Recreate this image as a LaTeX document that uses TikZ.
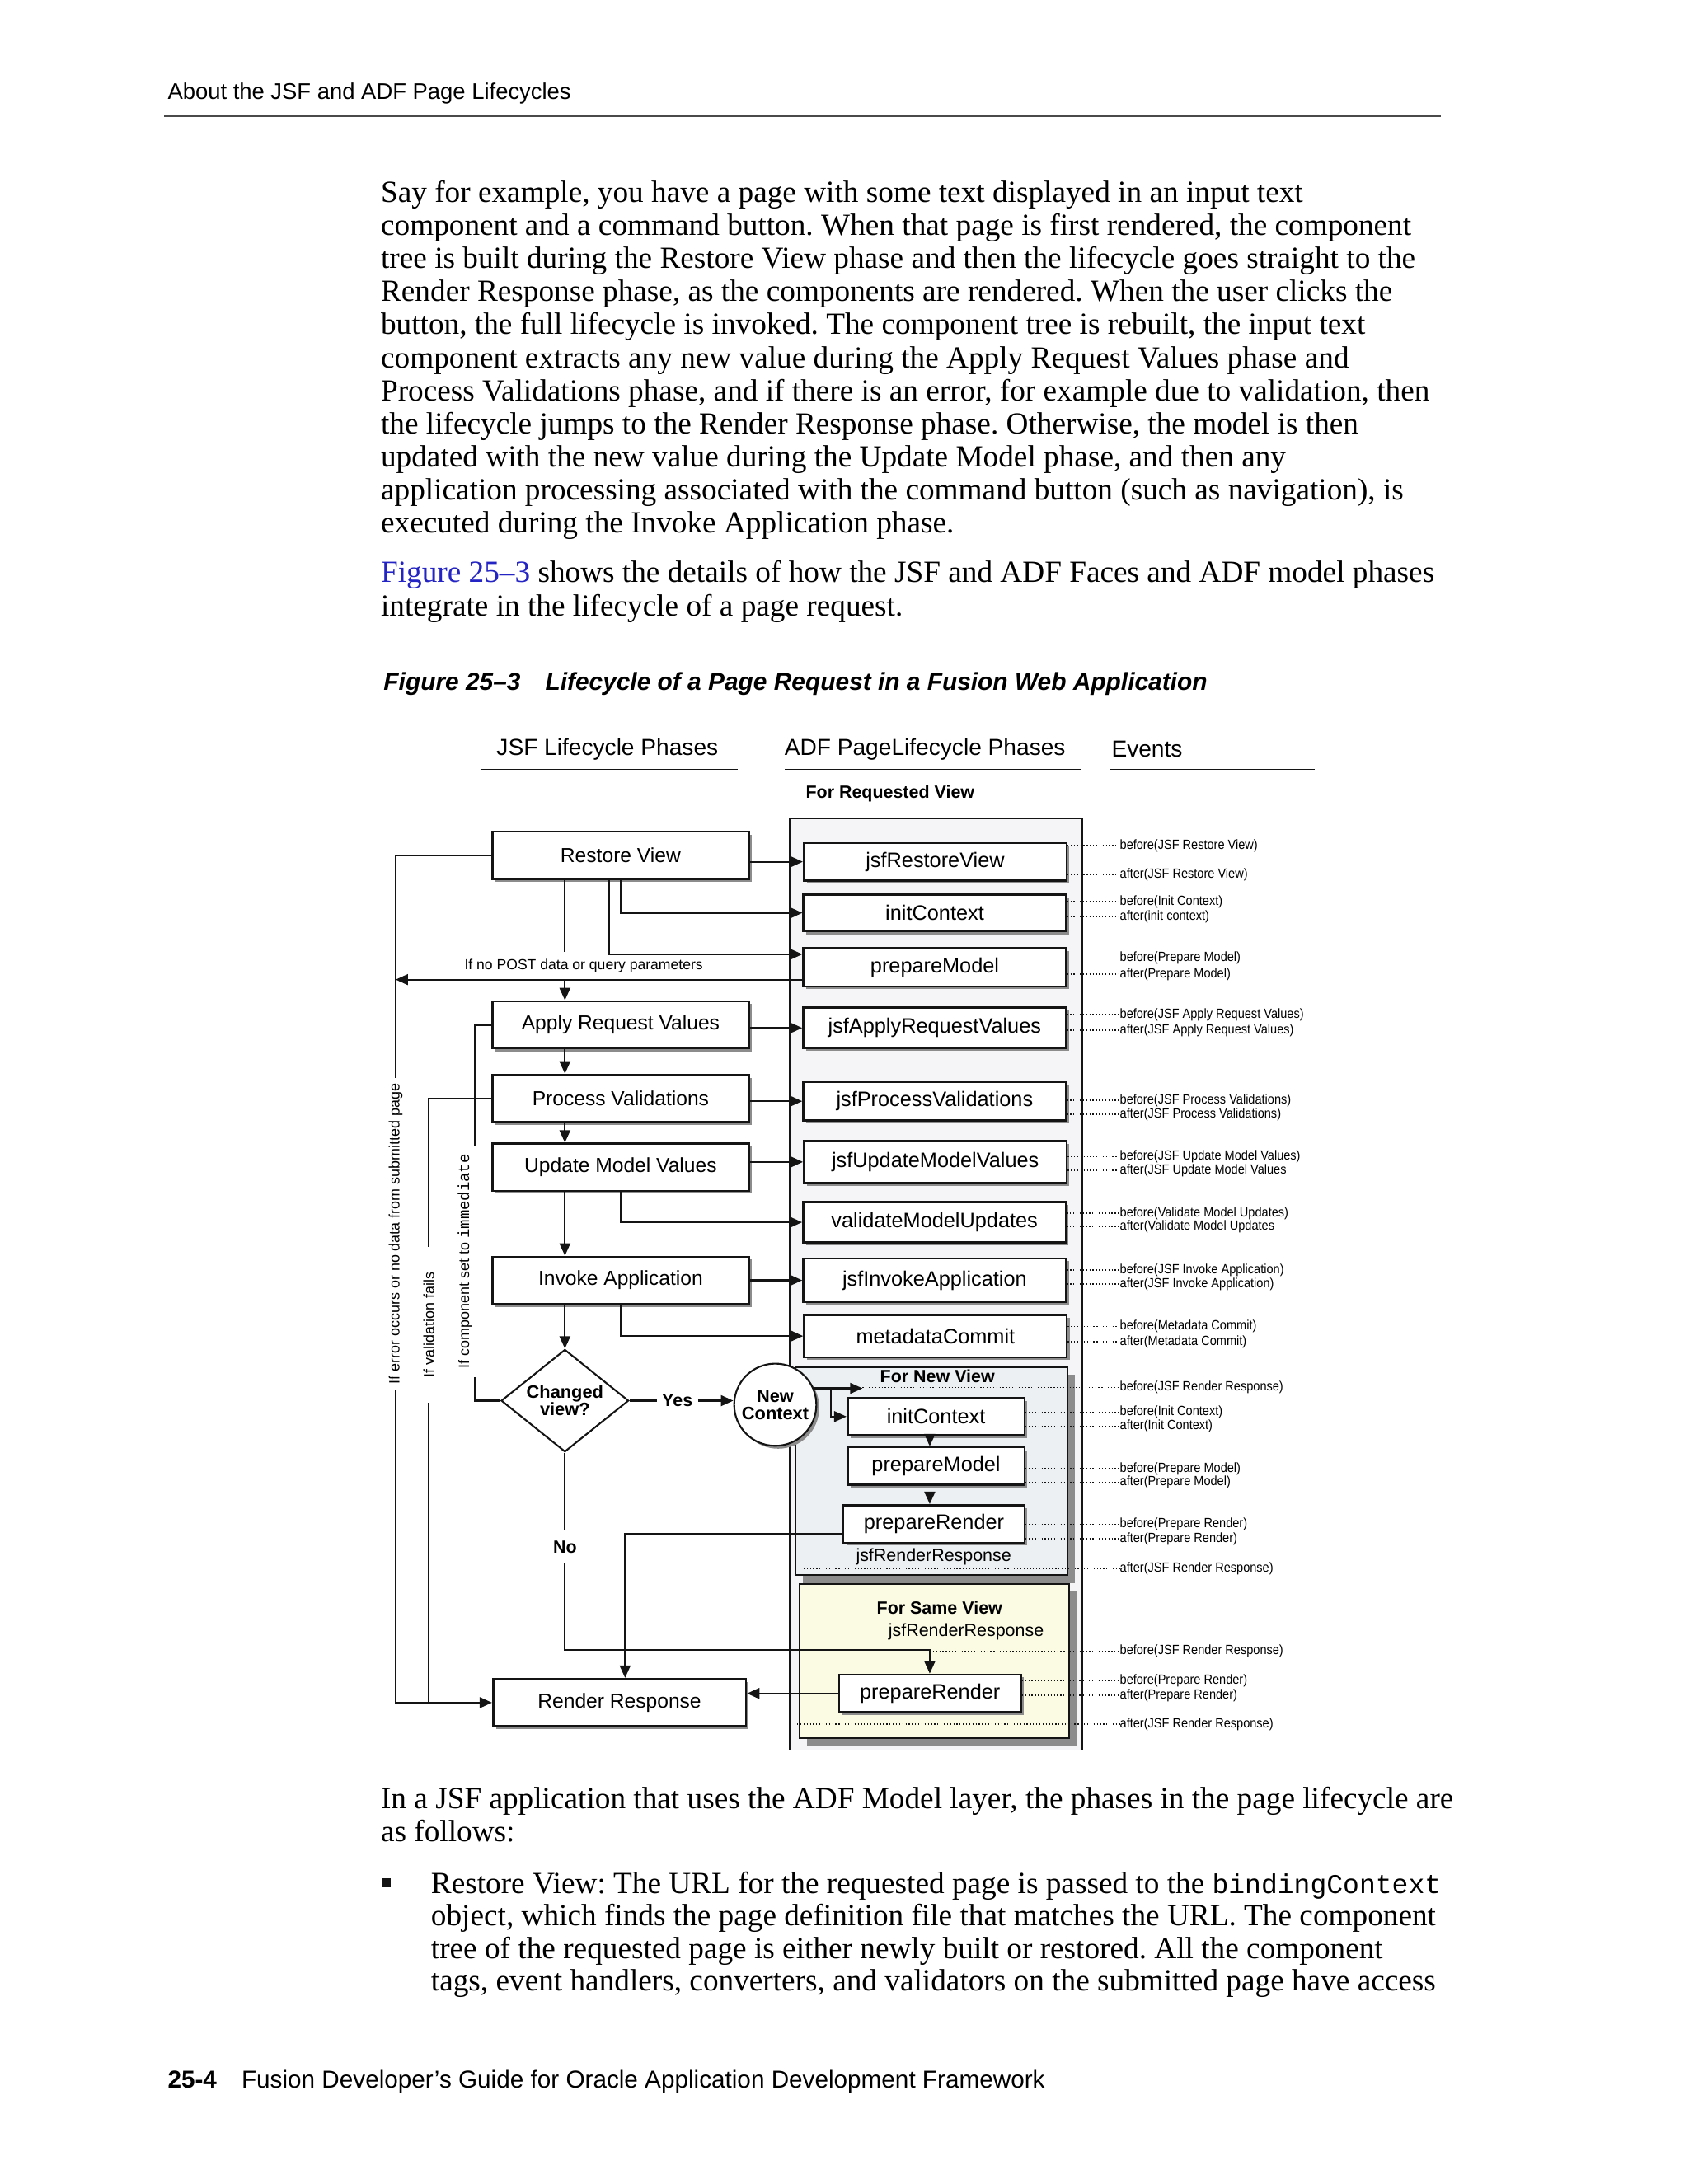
\documentclass[tikz,border=0pt]{standalone}
\usepackage{fontspec}
\setmainfont{Liberation Serif}
\setsansfont{Liberation Sans}
\setmonofont{Liberation Mono}
\newfontfamily\eventsans[FakeStretch=0.9]{Liberation Sans}
\usetikzlibrary{arrows.meta,positioning,calc,shapes.geometric,shadows}
\definecolor{Ink}{HTML}{141414}
\definecolor{LinkBlue}{HTML}{2424C4}
\definecolor{RuleGray}{HTML}{4A4A4A}
\definecolor{PanelGray}{HTML}{F5F5F7}
\definecolor{NewFill}{HTML}{ECF0F2}
\definecolor{SameFill}{HTML}{FBFBE3}
\definecolor{Shade}{HTML}{8C8C8C}
\newdimen\shu
\shu=0.16898mm
\frenchspacing
\tikzset{
  >={Triangle[length=1.5mm,width=1.3mm]},
  bodyline/.style={anchor=base west,inner sep=0pt,font=\fontsize{10.6}{12.7}\selectfont\frenchspacing},
  pagehead/.style={anchor=base west,inner sep=0pt,font=\fontsize{7.8}{9}\selectfont\sffamily},
  pagefoot/.style={anchor=base west,inner sep=0pt,font=\fontsize{8.45}{10}\selectfont\sffamily},
  figcap/.style={anchor=base west,inner sep=0pt,font=\fontsize{8.5}{10}\selectfont\sffamily\bfseries\itshape},
  colhead/.style={inner sep=0pt,font=\fontsize{8}{9}\selectfont\sffamily},
  colrule/.style={draw=Ink,line width=.5pt},
  boxshadow/.style={drop shadow={shadow xshift=.35mm,shadow yshift=-.35mm,fill=Shade,opacity=1}},
  panelshadow/.style={drop shadow={shadow xshift=.95mm,shadow yshift=-.95mm,fill=Shade,opacity=1}},
  phase/.style={rectangle,draw=Ink,line width=.75pt,fill=white,inner sep=0pt,boxshadow,
    minimum width=184*\shu,minimum height=33.8*\shu,font=\fontsize{7}{8}\selectfont\sffamily},
  adfstep/.style={phase,minimum width=188.5*\shu,minimum height=29*\shu,font=\fontsize{7.2}{8}\selectfont\sffamily},
  substep/.style={adfstep,minimum width=127*\shu,minimum height=26.8*\shu},
  decision/.style={diamond,draw=Ink,line width=.6pt,fill=white,aspect=1.245,inner sep=0pt,
    minimum width=91.5*\shu,minimum height=73.5*\shu,align=center,font=\fontsize{6.2}{6}\selectfont\sffamily\bfseries},
  ctx/.style={circle,draw=Ink,line width=.6pt,fill=white,inner sep=0pt,minimum size=59*\shu,boxshadow,
    align=center,font=\fontsize{6.2}{5.8}\selectfont\sffamily\bfseries},
  panel/.style={draw=Ink,line width=.6pt},
  flow/.style={->,draw=Ink,line width=.6pt},
  plain/.style={draw=Ink,line width=.6pt},
  evline/.style={draw=Ink,line width=.4pt,dash pattern=on .35pt off .75pt},
  evlab/.style={anchor=west,inner sep=0pt,font=\fontsize{4.6}{5}\selectfont\eventsans},
  lab/.style={inner sep=0pt,font=\fontsize{5}{6}\selectfont\sffamily},
  vlab/.style={lab,rotate=90,inner xsep=1.2mm,font=\fontsize{5.1}{6}\selectfont\sffamily},
  boldlab/.style={inner sep=0pt,font=\fontsize{6.1}{7}\selectfont\sffamily\bfseries},
  sublab/.style={inner sep=0pt,font=\fontsize{6.1}{7}\selectfont\sffamily}
}
\begin{document}
\begin{tikzpicture}[x=0.16898mm,y=-0.16898mm]
\useasboundingbox (0,0) rectangle (1212,1568);
% page head and text
\node[pagehead] (head) at (120,71) {About the JSF and ADF Page Lifecycles};
\draw[draw=RuleGray,line width=.7pt] (118,83.5) -- (1034,83.5);
\foreach \txtline [count=\i] in {
  {Say for example, you have a page with some text displayed in an input text},
  {component and a command button. When that page is first rendered, the component},
  {tree is built during the Restore View phase and then the lifecycle goes straight to the},
  {Render Response phase, as the components are rendered. When the user clicks the},
  {button, the full lifecycle is invoked. The component tree is rebuilt, the input text},
  {component extracts any new value during the Apply Request Values phase and},
  {Process Validations phase, and if there is an error, for example due to validation, then},
  {the lifecycle jumps to the Render Response phase. Otherwise, the model is then},
  {updated with the new value during the Update Model phase, and then any},
  {application processing associated with the command button (such as navigation), is},
  {executed during the Invoke Application phase.}}
  \node[bodyline] (para-\i) at (273,{145.3+(\i-1)*23.72}) {\txtline};
\node[bodyline] (ref-1) at (273,418.3) {\textcolor{LinkBlue}{Figure 25–3} shows the details of how the JSF and ADF Faces and ADF model phases};
\node[bodyline] (ref-2) at (273,442) {integrate in the lifecycle of a page request.};
\node[figcap] (fignum) at (275,495.3) {Figure 25–3};
\node[figcap] (figtitle) at (391,495.3) {Lifecycle of a Page Request in a Fusion Web Application};

% column heads
\node[colhead] (jsfhead) at (436,538) {JSF Lifecycle Phases};
\node[colhead] (adfhead) at (664,538) {ADF PageLifecycle Phases};
\node[colhead,anchor=west] (evhead) at (797.5,538) {Events};
\draw[colrule] (344.7,552.3) -- (529.7,552.3);
\draw[colrule] (563.4,552.3) -- (776.4,552.3);
\draw[colrule] (797,552.3) -- (943.8,552.3);
\node[boldlab,anchor=west] (reqview) at (578,569.7) {For Requested View};

% panels
\fill[PanelGray] (567,587.4) rectangle (777,1256.4);
\draw[panel] (567,1256.4) |- (777,587.4) -- (777,1256.4);
\draw[panel,fill=NewFill,panelshadow] (570.9,981.4) rectangle (766.2,1130.9);
\draw[panel,fill=SameFill,panelshadow] (573.7,1137.2) rectangle (767.3,1247.7);
\node[boldlab] (newview) at (672.9,988.3) {For New View};
\node[sublab] (jrr1) at (670.2,1117.5) {jsfRenderResponse};
\node[boldlab] (sameview) at (674.4,1154) {For Same View};
\node[sublab] (jrr2) at (693.5,1171.7) {jsfRenderResponse};

% JSF phases
\node[phase] (rv) at (445.5,614) {Restore View};
\node[phase] (arv) at (445.5,735.8) {Apply Request Values};
\node[phase] (pv) at (445.5,788.5) {Process Validations};
\node[phase] (umv) at (445.5,838) {Update Model Values};
\node[phase] (ia) at (445.5,919.2) {Invoke Application};
\node[decision] (chg) at (405.5,1005.6) {Changed\\view?};
\node[ctx] (nc) at (556.5,1008.5) {New\\Context};
\node[phase,minimum width=181.5*\shu,minimum height=34*\shu] (rr) at (444.7,1222.4) {Render Response};

% ADF phases
\node[adfstep,minimum height=27*\shu] (jrv) at (671.3,618.7) {jsfRestoreView};
\node[adfstep,minimum height=26.6*\shu] (ic1) at (671,655.4) {initContext};
\node[adfstep,minimum height=27.6*\shu] (pm1) at (671,694.4) {prepareModel};
\node[adfstep] (jarv) at (670.9,738) {jsfApplyRequestValues};
\node[adfstep,minimum height=27.6*\shu] (jpv) at (670.9,790.6) {jsfProcessValidations};
\node[adfstep,minimum height=30*\shu] (jumv) at (671.4,834.2) {jsfUpdateModelValues};
\node[adfstep] (vmu) at (670.8,877.5) {validateModelUpdates};
\node[adfstep,minimum height=31.5*\shu] (jia) at (670.9,919.2) {jsfInvokeApplication};
\node[adfstep,minimum height=30.6*\shu] (mc) at (671.5,959.2) {metadataCommit};
\node[substep] (ic2) at (671.9,1017) {initContext};
\node[substep] (pm2) at (671.9,1052.5) {prepareModel};
\node[substep,minimum width=130*\shu,minimum height=27*\shu] (pr2) at (670.4,1094.1) {prepareRender};
\node[substep,minimum width=130.5*\shu,minimum height=27*\shu] (pr3) at (667.6,1215.8) {prepareRender};

% labels on the connectors
\node[lab] (nopost) at (419,693.4) {If no POST data or query parameters};
\node[vlab,inner xsep=.6mm] (errlab) at (284,885.8) {If error occurs or no data from submitted page};
\node[vlab,inner xsep=3mm] (vallab) at (307.8,951.3) {If validation fails};
\node[vlab,inner xsep=1mm] (immlab) at (333.8,905.4) {If component set to {\ttfamily\fontsize{5.4}{6}\selectfont immediate}};
\node[boldlab,inner xsep=.6mm] (yes) at (486.2,1005.6) {Yes};
\node[boldlab,inner ysep=1.2mm] (no) at (405.5,1110.6) {No};

\coordinate (sx) at (405.5,0);
\coordinate (imx) at (340.6,0);
\coordinate (cx) at (667.4,0);
\coordinate (nvtip) at (619.1,0);
\coordinate (nvend) at (576.8,0);
\coordinate (svend) at (572.2,0);

% connectors
\draw[flow] (rv.east |- jrv.west) -- (jrv.west);
\draw[flow] (rv.south) |- (ic1.west);
\draw[flow] ($(rv.south)+(-8.4,0)$) |- ($(pm1.west)+(0,-9.3)$);
\draw[plain] (rv.south -| sx) -- ++(0,52);
\draw[flow] ($(pm1.west)+(0,8.9)$) coordinate (np) -- (np -| errlab);
\draw[flow] (np -| sx) -- (arv.north -| sx);
\draw[flow] (arv.south -| sx) -- (pv.north -| sx);
\draw[flow] (pv.south -| sx) -- (umv.north -| sx);
\draw[flow] (umv.south -| sx) -- (ia.north -| sx);
\draw[flow] (ia.south -| sx) -- (chg.north);
\draw[flow] (arv.east |- jarv.west) -- (jarv.west);
\draw[flow] (pv.east |- jpv.west) -- (jpv.west);
\draw[flow] (umv.east |- jumv.west) -- (jumv.west);
\draw[flow] (umv.south) |- (vmu.west);
\draw[flow] (ia.east |- jia.west) -- (jia.west);
\draw[flow] (ia.south) |- (mc.west);
\draw[plain] (rv.west) -| (errlab.east);
\draw[flow] (errlab.west) |- (rr.west);
\draw[plain] (pv.west) -| (vallab.east);
\draw[plain] (vallab.west) -- (vallab.west |- rr.west);
\draw[plain] (arv.west) -| (imx |- immlab.east);
\draw[plain] (imx |- immlab.west) |- (chg.west);
\draw[plain] (chg.east) -- (yes.west);
\draw[flow] (yes.east) -- (yes.east -| nc.west);
\draw[plain] (chg.south) -- (no.north);
\draw[flow] (no.south) |- ($(cx |- pr3.north)+(0,-16.8)$) -- (cx |- pr3.north);
\draw[flow] (nc.23) -- (nc.23 -| nvtip);
\draw[flow] ($(nc.23)!0.35!(nc.23 -| nvtip)$) |- (ic2.west);
\draw[flow] (ic2.south -| cx) -- (pm2.north -| cx);
\draw[flow] ($(pm2.south -| cx)+(0,5)$) -- (pr2.north -| cx);
\draw[flow] ($(pr2.west)+(0,7.2)$) -| ($(rr.north)+(4,0)$);
\draw[flow] (pr3.west) -- (pr3.west -| rr.east);

% events
\foreach \yy/\txt/\src [count=\k] in {
  607/before(JSF Restore View)/jrv.east, 627.7/after(JSF Restore View)/jrv.east,
  647.2/before(Init Context)/ic1.east, 658.3/after(init context)/ic1.east,
  688/before(Prepare Model)/pm1.east, 699.3/after(Prepare Model)/pm1.east,
  728.3/before(JSF Apply Request Values)/jarv.east, 739.7/after(JSF Apply Request Values)/jarv.east,
  790/before(JSF Process Validations)/jpv.east, 799.9/after(JSF Process Validations)/jpv.east,
  830.5/before(JSF Update Model Values)/jumv.east, 840.3/after(JSF Update Model Values/jumv.east,
  870.9/before(Validate Model Updates)/vmu.east, 880.8/after(Validate Model Updates/vmu.east,
  911.7/before(JSF Invoke Application)/jia.east, 921.8/after(JSF Invoke Application)/jia.east,
  952.4/before(Metadata Commit)/mc.east, 963.2/after(Metadata Commit)/mc.east,
  996/before(JSF Render Response)/nvtip,
  1013.9/before(Init Context)/ic2.east, 1023.8/after(Init Context)/ic2.east,
  1054.4/before(Prepare Model)/pm2.east, 1064.2/after(Prepare Model)/pm2.east,
  1094.4/before(Prepare Render)/pr2.east, 1104.7/after(Prepare Render)/pr2.east,
  1126/after(JSF Render Response)/nvend,
  1185.5/before(JSF Render Response)/cx,
  1206.7/before(Prepare Render)/pr3.east, 1217.1/after(Prepare Render)/pr3.east,
  1237.8/after(JSF Render Response)/svend}
{
  \node[evlab] (ev-\k) at (803.5,\yy) {\txt};
  \draw[evline] (\src |- ev-\k.west) -- (ev-\k.west);
}

% text after the figure
\node[bodyline] (after-1) at (273,1298.3) {In a JSF application that uses the ADF Model layer, the phases in the page lifecycle are};
\node[bodyline] (after-2) at (273,1322) {as follows:};
\node[fill=Ink,inner sep=0pt,minimum size=1.1mm] (bullet) at (277.5,1351.5) {};
\node[bodyline] (item-1) at (309,1359.3) {Restore View: The URL for the requested page is passed to the {\fontsize{9.4}{12}\selectfont\ttfamily bindingContext}};
\node[bodyline] (item-2) at (309,1382.6) {object, which finds the page definition file that matches the URL. The component};
\node[bodyline] (item-3) at (309,1406) {tree of the requested page is either newly built or restored. All the component};
\node[bodyline] (item-4) at (309,1429.3) {tags, event handlers, converters, and validators on the submitted page have access};

% page foot
\node[pagefoot,font=\fontsize{8.45}{10}\selectfont\sffamily\bfseries] (pgno) at (120,1499) {25-4};
\node[pagefoot] (book) at (173,1499) {Fusion Developer's Guide for Oracle Application Development Framework};
\end{tikzpicture}
\end{document}
